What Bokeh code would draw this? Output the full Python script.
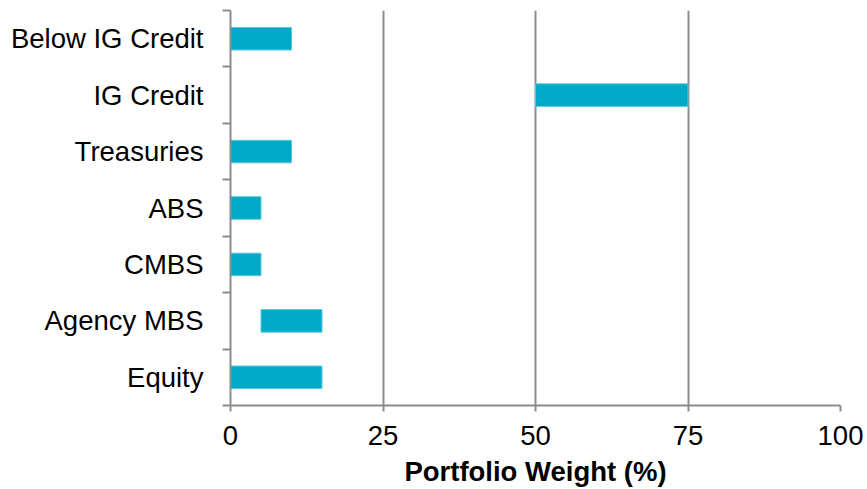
from bokeh.plotting import figure
from bokeh.models import FixedTicker, ColumnDataSource
from bokeh.embed import file_html
from bokeh.resources import INLINE

# Portfolio weight ranges (%) by asset class, listed bottom to top
categories = ["Equity", "Agency MBS", "CMBS", "ABS", "Treasuries", "IG Credit", "Below IG Credit"]
weight_min = [0, 5, 0, 0, 0, 50, 0]
weight_max = [15, 15, 5, 5, 10, 75, 10]
x_ticks = [0, 25, 50, 75, 100]

centers = [i + 0.5 for i in range(len(categories))]
source = ColumnDataSource(dict(y=centers, left=weight_min, right=weight_max))

p = figure(width=867, height=489, x_range=(0, 100), y_range=(0, len(categories)),
           output_backend="svg", toolbar_location=None,
           min_border_left=230, min_border_right=27, min_border_top=10, min_border_bottom=84)
p.outline_line_color = None
p.background_fill_color = "white"
p.border_fill_color = "white"

p.hbar(y="y", left="left", right="right", height=0.4, source=source,
       fill_color="#00A9C6", line_color="#5CC8DB", line_width=1)

GRAY = "#8C8C8C"
FONT = "Liberation Sans"
SIZE = "27.5px"

# x axis
xa = p.xaxis[0]
xa.ticker = FixedTicker(ticks=x_ticks)
xa.axis_line_color = GRAY
xa.axis_line_width = 2
xa.major_tick_line_color = GRAY
xa.major_tick_line_width = 2
xa.major_tick_in = 0
xa.major_tick_out = 6
xa.minor_tick_line_color = None
xa.major_label_text_font = FONT
xa.major_label_text_font_size = SIZE
xa.major_label_text_color = "black"
xa.major_label_standoff = 14
xa.axis_label = "Portfolio Weight (%)"
xa.axis_label_text_font = FONT
xa.axis_label_text_font_size = SIZE
xa.axis_label_text_font_style = "bold"
xa.axis_label_text_color = "black"
xa.axis_label_standoff = 8

# y axis: labels at bar centres, tick marks at category boundaries
ya = p.yaxis[0]
ya.ticker = FixedTicker(ticks=centers, minor_ticks=list(range(len(categories) + 1)))
ya.major_label_overrides = {c: name for c, name in zip(centers, categories)}
ya.axis_line_color = GRAY
ya.axis_line_width = 2
ya.major_tick_line_color = None
ya.major_tick_in = 0
ya.major_tick_out = 0
ya.minor_tick_line_color = GRAY
ya.minor_tick_line_width = 2
ya.minor_tick_in = 0
ya.minor_tick_out = 8
ya.major_label_text_font = FONT
ya.major_label_text_font_size = SIZE
ya.major_label_text_color = "black"
ya.major_label_standoff = 19

p.xgrid.ticker = FixedTicker(ticks=x_ticks[1:])
p.xgrid.grid_line_color = GRAY
p.xgrid.grid_line_width = 2
p.ygrid.grid_line_color = None

open("out.html", "w").write(file_html(p, INLINE))
